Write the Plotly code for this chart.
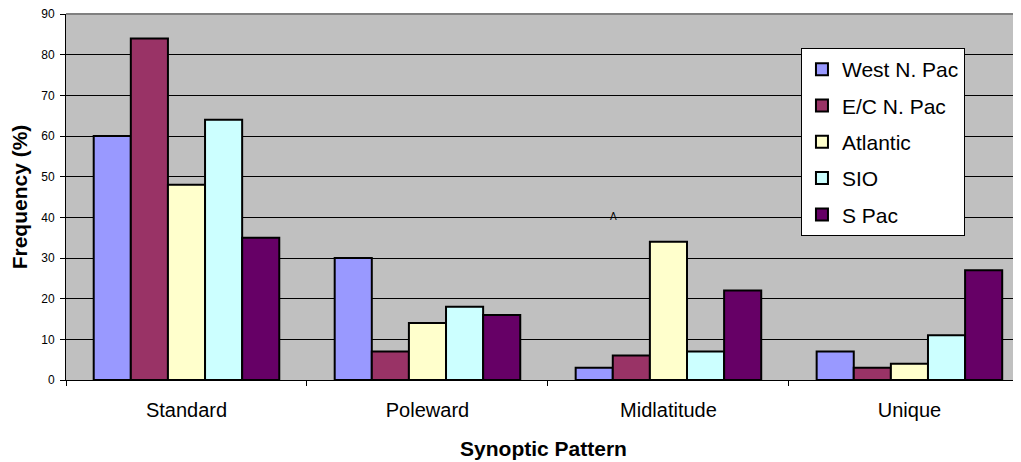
import plotly.graph_objects as go

categories = ["Standard", "Poleward", "Midlatitude", "Unique"]
series_names = ["West N. Pac", "E/C N. Pac", "Atlantic", "SIO", "S Pac"]
west_n_pac = [60, 30, 3, 7]
ec_n_pac = [84, 7, 6, 3]
atlantic = [48, 14, 34, 4]
sio = [64, 18, 7, 11]
s_pac = [35, 16, 22, 27]
colors = ["#9999FF", "#993366", "#FFFFCC", "#CCFFFF", "#660066"]
y_ticks = [0, 10, 20, 30, 40, 50, 60, 70, 80, 90]

FONT = "Arial, Liberation Sans, sans-serif"
values = [west_n_pac, ec_n_pac, atlantic, sio, s_pac]

fig = go.Figure()
for name, vals, col in zip(series_names, values, colors):
    fig.add_trace(go.Bar(
        x=categories, y=vals, name=name, legendgroup=name,
        marker=dict(color=col, line=dict(color="black", width=2)),
    ))

fig.update_layout(
    width=1013, height=454,
    margin=dict(l=58, r=0, t=6, b=82),
    paper_bgcolor="white",
    plot_bgcolor="#C0C0C0",
    barmode="group", bargap=0.23, bargroupgap=0,
    font=dict(family=FONT, color="black"),
    showlegend=True,
    legend=dict(
        x=0.7696, y=0.907, xanchor="left", yanchor="top",
        bgcolor="white", bordercolor="black", borderwidth=1,
        font=dict(size=21, family=FONT),
        tracegroupgap=6,
        itemwidth=30,
    ),
    xaxis=dict(
        range=[-0.5, 3.463], automargin=False,
        tickson="boundaries", ticks="outside", ticklen=5, tickcolor="black",
        tickfont=dict(size=20, family=FONT), ticklabelstandoff=12,
        showline=True, linecolor="black", linewidth=1,
        showgrid=False,
        title=dict(text="<b>Synoptic Pattern</b>", font=dict(size=21, family=FONT), standoff=21),
    ),
    yaxis=dict(
        range=[0, 90], tickvals=y_ticks, automargin=False,
        ticks="outside", ticklen=5, tickcolor="black",
        tickfont=dict(size=12, family=FONT), ticklabelstandoff=3,
        ticklabeloverflow="allow",
        showline=True, linecolor="black", linewidth=1,
        showgrid=True, gridcolor="black", gridwidth=1,
        zeroline=False,
        title=dict(text="<b>Frequency (%)</b>", font=dict(size=21, family=FONT), standoff=9),
    ),
)

fig.add_shape(type="line", xref="paper", yref="paper", x0=0, x1=1, y0=1, y1=1,
              line=dict(color="#808080", width=2))
fig.add_annotation(text="A", x=0.5728, y=0.448, xref="paper", yref="paper",
                   showarrow=False, font=dict(size=10, family=FONT))

fig.write_html("out.html")
